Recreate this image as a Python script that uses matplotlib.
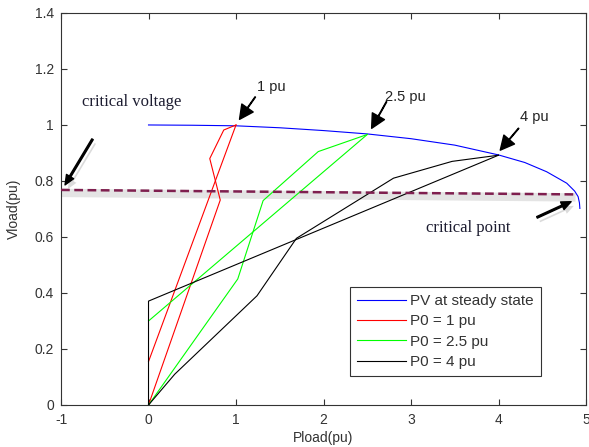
import numpy as np
import matplotlib.pyplot as plt
import matplotlib.transforms as mtransforms
import matplotlib.patheffects as pe

plt.rcParams['font.family'] = ['Liberation Sans', 'DejaVu Sans']
plt.rcParams['axes.unicode_minus'] = False

# PV curve at steady state
pv_p = [0, 0.5, 1.0, 1.5, 2.0, 2.5, 3.0, 3.5, 4.0, 4.3, 4.55, 4.78, 4.87, 4.91, 4.925, 4.93]
pv_v = [1.0, 0.999, 0.997, 0.99, 0.98, 0.968, 0.951, 0.928, 0.893, 0.866, 0.833, 0.792, 0.764, 0.744, 0.722, 0.702]

# P0 = 1 pu
r1_p = [0, 0.82, 0.70, 0.86, 1.0]
r1_v = [0, 0.732, 0.88, 0.982, 1.0]
r2_p = [0, 1.0]
r2_v = [0.155, 1.0]

# P0 = 2.5 pu
g1_p = [0, 1.02, 1.31, 1.94, 2.5]
g1_v = [0, 0.45, 0.73, 0.905, 0.966]
g2_p = [0, 2.5]
g2_v = [0.30, 0.966]

# P0 = 4 pu
k1_p = [0, 0.3, 1.24, 1.69, 2.8, 3.47, 4.0]
k1_v = [0, 0.11, 0.39, 0.595, 0.81, 0.87, 0.892]
k2_p = [0, 0, 4.0]
k2_v = [0, 0.371, 0.892]

# critical voltage line
crit_p = [-1, 4.88]
crit_v = [0.768, 0.752]

fig = plt.figure(figsize=(5.89, 4.47), dpi=100)
ax = fig.add_axes([0.1036, 0.094, 0.8913, 0.877])

ax.plot(pv_p, pv_v, color='#0000ff', lw=0.8, label='PV at steady state')
ax.plot(r1_p, r1_v, color='#ff0000', lw=0.8, label='P0 = 1 pu')
ax.plot(r2_p, r2_v, color='#ff0000', lw=0.8)
ax.plot(g1_p, g1_v, color='#00ff00', lw=0.8, label='P0 = 2.5 pu')
ax.plot(g2_p, g2_v, color='#00ff00', lw=0.8)
ax.plot(k1_p, k1_v, color='black', lw=0.8, label='P0 = 4 pu')
ax.plot(k2_p, k2_v, color='black', lw=0.8)

# dashed critical line with soft shadow
shadow = mtransforms.offset_copy(ax.transData, fig=fig, x=0, y=-3, units='dots')
ax.plot(crit_p, crit_v, color='#e4e4e4', lw=6, transform=shadow, solid_capstyle='butt', zorder=1)
ax.plot(crit_p, crit_v, color='#7f1f4f', lw=1.8, dashes=(3.5, 1.8), zorder=3)

# pu labels with arrows
big = dict(facecolor='black', edgecolor='black', width=0.4, headwidth=10, headlength=10, shrink=0)
ax.annotate('', xy=(1.04, 1.02), xytext=(1.22, 1.10), arrowprops=big)
ax.text(1.40, 1.136, '1 pu', ha='center', va='center', fontsize=10.5, color='#222222')
ax.annotate('', xy=(2.55, 0.988), xytext=(2.72, 1.083), arrowprops=big)
ax.text(2.94, 1.10, '2.5 pu', ha='center', va='center', fontsize=10.5, color='#222222')
ax.annotate('', xy=(4.02, 0.91), xytext=(4.23, 0.988), arrowprops=big)
ax.text(4.41, 1.03, '4 pu', ha='center', va='center', fontsize=10.5, color='#222222')

shade = [pe.SimplePatchShadow(offset=(2, -3), shadow_rgbFace='#999999', alpha=0.35), pe.Normal()]
thick = dict(facecolor='black', edgecolor='black', width=1.2, headwidth=6, headlength=7, shrink=0,
             path_effects=shade)
ax.annotate('', xy=(-0.954, 0.786), xytext=(-0.64, 0.949), arrowprops=thick)
ax.text(-0.19, 1.083, 'critical voltage', ha='center', va='center', fontsize=12,
        family='Liberation Serif', color='#1c1c30')
ax.annotate('', xy=(4.83, 0.726), xytext=(4.44, 0.670), arrowprops=thick)
ax.text(3.65, 0.632, 'critical point', ha='center', va='center', fontsize=12,
        family='Liberation Serif', color='#1c1c30')

ax.set_xlim(-1, 5)
ax.set_ylim(0, 1.4)
ax.set_xticks(np.arange(-1, 6, 1))
ax.set_yticks(np.arange(0, 1.41, 0.2))
ax.set_yticklabels(['0', '0.2', '0.4', '0.6', '0.8', '1', '1.2', '1.4'])
ax.tick_params(direction='in', top=True, right=True, length=4, width=0.8,
               labelsize=10, colors='#333333', labelcolor='#333333')
ax.tick_params(axis='x', pad=6)
ax.tick_params(axis='y', pad=5)
for s in ax.spines.values():
    s.set_color('#333333')
    s.set_linewidth(0.8)

ax.set_xlabel('Pload(pu)', fontsize=10, color='#333333', labelpad=3)
ax.set_ylabel('Vload(pu)', fontsize=10, color='#333333', labelpad=10)

leg = ax.legend(loc='lower left', bbox_to_anchor=(0.55, 0.074), fontsize=11, frameon=True,
                fancybox=False, edgecolor='black', handlelength=3.2, labelspacing=0.42,
                borderpad=0.45, handletextpad=0.3, borderaxespad=0)
leg.get_frame().set_linewidth(0.8)
for t in leg.get_texts():
    t.set_color('#333333')

plt.savefig('out.png', dpi=100)
